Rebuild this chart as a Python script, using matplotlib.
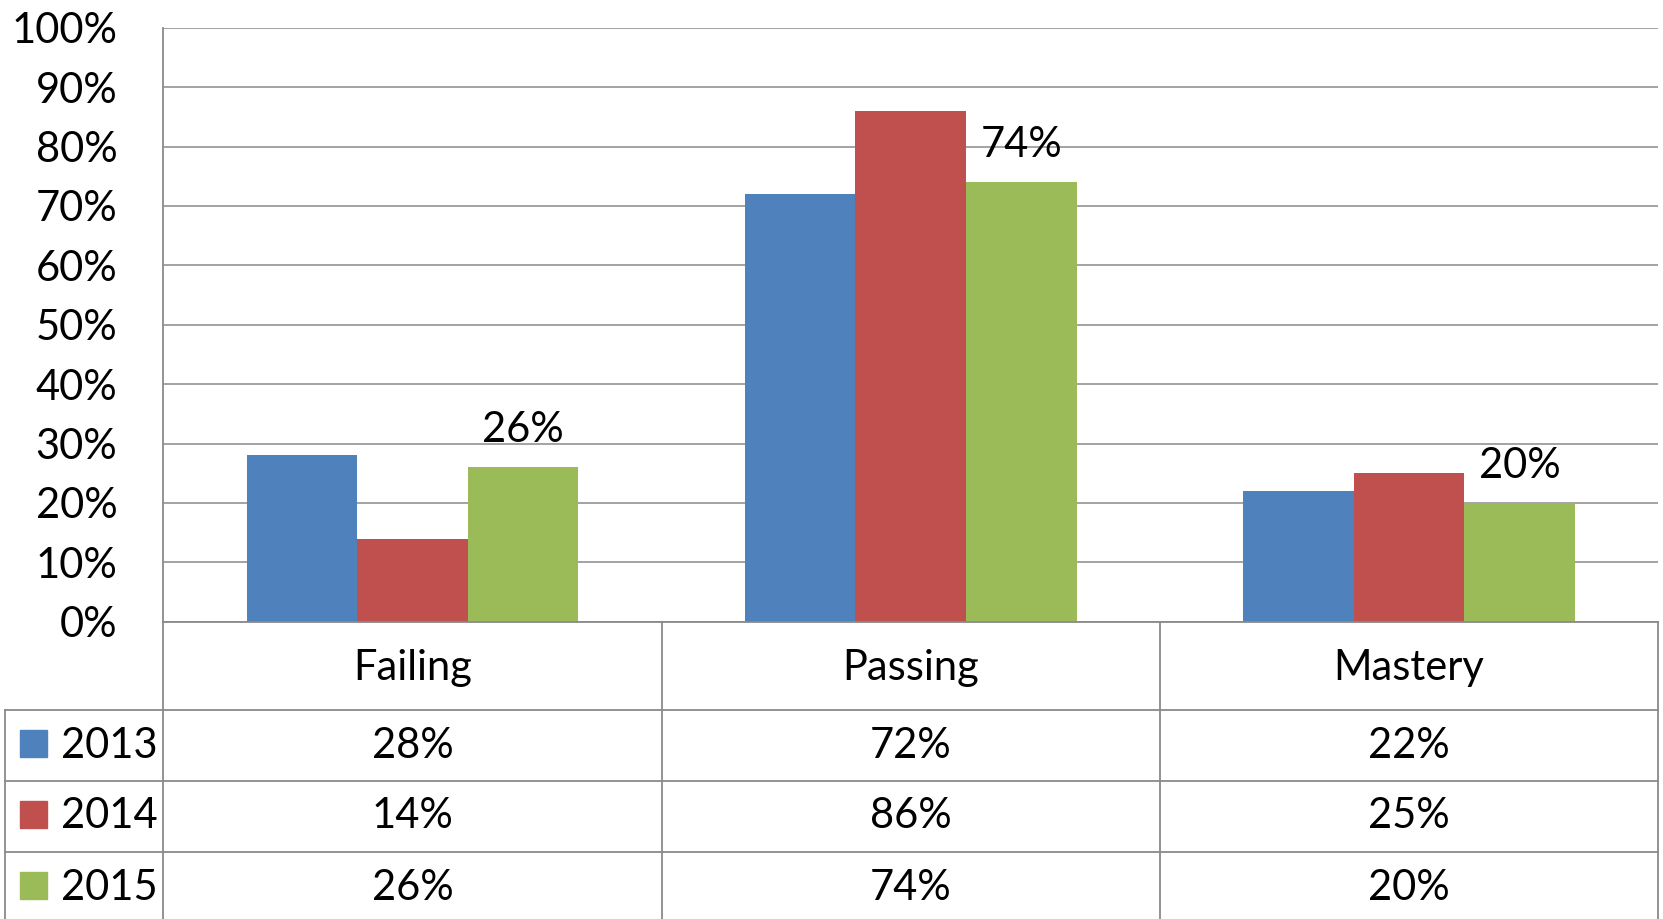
import matplotlib.pyplot as plt
import matplotlib.transforms as mtransforms
from matplotlib.patches import Rectangle
import numpy as np

plt.rcParams['font.family'] = ['Lato', 'DejaVu Sans']

categories = ['Failing', 'Passing', 'Mastery']
years = ['2013', '2014', '2015']
values_2013 = [28, 72, 22]
values_2014 = [14, 86, 25]
values_2015 = [26, 74, 20]
colors = ['#4F81BD', '#C0504D', '#9BBB59']

series = [values_2013, values_2014, values_2015]

W, H = 1663, 919
def fx(px):
    return px / W
def fy(py):
    return 1 - py / H

fig = plt.figure(figsize=(W / 100, H / 100), dpi=100)

# pixel positions of the plot area / table
left, right, top, zero = 163.3, 1658.3, 27.7, 621.7
row_lines = [710, 780.7, 851.7, 919]
baselines = [680, 758, 828.5, 900]
line_col = '#8a8a8a'
fs = 30

ax = fig.add_axes([fx(left), fy(zero), fx(right) - fx(left), fy(top) - fy(zero)])
x = np.arange(len(categories))
width = 0.222
for i, vals in enumerate(series):
    ax.bar(x + (i - 1) * width, vals, width, color=colors[i], zorder=2)

# data labels for the last series only
for xi, v in zip(x, values_2015):
    ax.annotate(f'{v}%', (xi + width, v), xytext=(0, 18), textcoords='offset points',
                ha='center', va='baseline', fontsize=fs)

ax.set_xlim(-0.5, 2.5)
ax.set_ylim(0, 100)
ax.set_yticks(range(0, 101, 10))
ax.set_yticklabels([f'{t}%' for t in range(0, 101, 10)], fontsize=fs)
ax.tick_params(axis='y', length=0, pad=33)
ax.set_xticks([])
ax.yaxis.grid(True, color=line_col, lw=1.1)
ax.set_axisbelow(True)
for s in ['top', 'right']:
    ax.spines[s].set_visible(False)
for s in ['left', 'bottom']:
    ax.spines[s].set_color(line_col)
    ax.spines[s].set_linewidth(1.3)

# data table under the chart
def hline(y, x0, x1):
    fig.add_artist(plt.Line2D([fx(x0), fx(x1)], [fy(y), fy(y)], color=line_col, lw=1.3))
def vline(xp, y0, y1):
    fig.add_artist(plt.Line2D([fx(xp), fx(xp)], [fy(y0), fy(y1)], color=line_col, lw=1.3))

for y in row_lines[:-1]:
    hline(y, 5.3, right)
vline(5.3, row_lines[0], H)
bounds = [left, left + (right - left) / 3, left + 2 * (right - left) / 3, right]
for b in bounds:
    vline(b, zero, H)

trans = mtransforms.blended_transform_factory(ax.transData, fig.transFigure)
for xi, c in zip(x, categories):
    fig.text(xi, fy(baselines[0]), c, transform=trans, ha='center', va='baseline', fontsize=fs)
for r, (yr, vals) in enumerate(zip(years, series)):
    bl = baselines[r + 1]
    fig.add_artist(Rectangle((fx(20), fy(bl - 1)), fx(26.7), fy(0) - fy(27), transform=fig.transFigure,
                             color=colors[r]))
    fig.text(fx(61), fy(bl), yr, ha='left', va='baseline', fontsize=fs)
    for xi, v in zip(x, vals):
        fig.text(xi, fy(bl), f'{v}%', transform=trans, ha='center', va='baseline', fontsize=fs)

fig.savefig('out.png', dpi=100)
